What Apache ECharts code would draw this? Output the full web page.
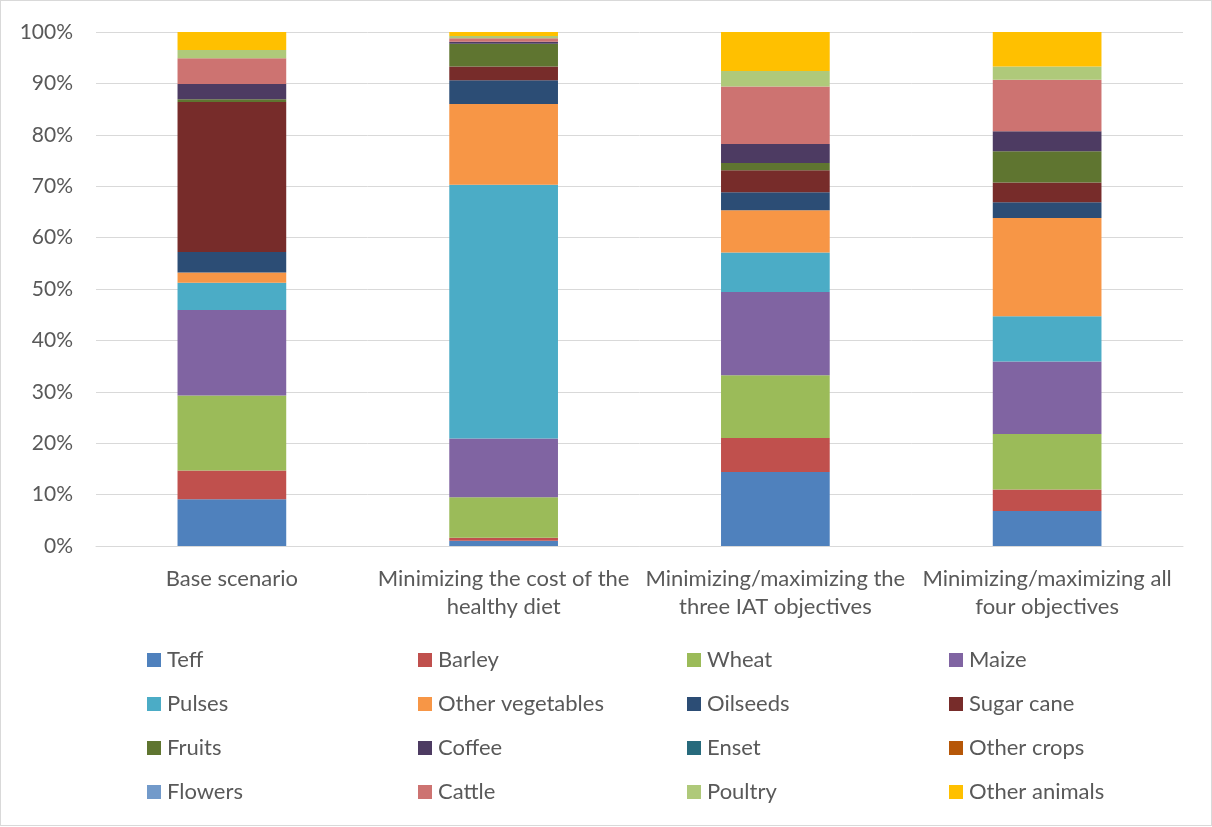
<!DOCTYPE html>
<html>
<head>
<meta charset="utf-8">
<script src="https://cdn.jsdelivr.net/npm/echarts@6/dist/echarts.min.js"></script>
<style>
html,body{margin:0;padding:0;background:#fff;}
#c{position:absolute;left:0;top:0;width:1210px;height:824px;border:1px solid #d9d9d9;}
</style>
</head>
<body>
<div id="c"></div>
<script>
const categories = [
  'Base scenario',
  'Minimizing the cost of the\nhealthy diet',
  'Minimizing/maximizing the\nthree IAT objectives',
  'Minimizing/maximizing all\nfour objectives'
];
const yTicks = [0, 10, 20, 30, 40, 50, 60, 70, 80, 90, 100];

// percentage shares per category (stack order bottom to top)
const teff         = [9.1, 1.0, 14.4, 6.8];
const barley       = [5.6, 0.6, 6.6, 4.2];
const wheat        = [14.6, 7.9, 12.2, 10.8];
const maize        = [16.6, 11.4, 16.2, 14.1];
const pulses       = [5.3, 49.4, 7.7, 8.8];
const otherVeg     = [2.0, 15.7, 8.2, 19.1];
const oilseeds     = [4.0, 4.6, 3.5, 3.1];
const sugarCane    = [29.2, 2.7, 4.3, 3.8];
const fruits       = [0.5, 4.4, 1.4, 6.1];
const coffee       = [3.0, 0.4, 3.7, 3.9];
const enset        = [0, 0, 0, 0];
const otherCrops   = [0, 0, 0, 0];
const flowers      = [0, 0, 0, 0];
const cattle       = [5.0, 0.7, 11.2, 10.0];
const poultry      = [1.6, 0.4, 3.0, 2.6];
const otherAnimals = [3.5, 0.8, 7.6, 6.7];

const seriesNames = ['Teff','Barley','Wheat','Maize','Pulses','Other vegetables','Oilseeds','Sugar cane','Fruits','Coffee','Enset','Other crops','Flowers','Cattle','Poultry','Other animals'];
const seriesData = [teff, barley, wheat, maize, pulses, otherVeg, oilseeds, sugarCane, fruits, coffee, enset, otherCrops, flowers, cattle, poultry, otherAnimals];
const colors = ['#4F81BD','#C0504D','#9BBB59','#8064A2','#4BACC6','#F79646','#2C4D75','#772C2A','#5F7530','#4D3B62','#276A7C','#B65708','#729ACA','#CD7371','#AFC97A','#FFC000'];

const FONT = 'Lato';
const TXT = '#595959';

const legendCols = [
  {left: 146, names: ['Teff','Pulses','Fruits','Flowers']},
  {left: 417, names: ['Barley','Other vegetables','Coffee','Cattle']},
  {left: 686, names: ['Wheat','Oilseeds','Enset','Poultry']},
  {left: 948, names: ['Maize','Sugar cane','Other crops','Other animals']}
];

const chart = echarts.init(document.getElementById('c'), null, {renderer: 'canvas'});
chart.setOption({
  animation: false,
  color: colors,
  grid: {left: 95, right: 28, top: 31, bottom: 279},
  legend: legendCols.map(c => ({
    orient: 'vertical',
    left: c.left,
    top: 647,
    padding: 0,
    itemWidth: 14,
    itemHeight: 14,
    itemGap: 20,
    icon: 'rect',
    data: c.names,
    selectedMode: false,
    textStyle: {fontFamily: FONT, fontSize: 22, color: TXT, lineHeight: 24, padding: [0,0,0,1]}
  })),
  xAxis: {
    type: 'category',
    data: categories,
    axisLine: {show: true, lineStyle: {color: '#d9d9d9', width: 1}},
    axisTick: {show: false},
    axisLabel: {fontFamily: FONT, fontSize: 22, color: TXT, lineHeight: 28, margin: 19, interval: 0}
  },
  yAxis: {
    type: 'value',
    min: 0,
    max: 100,
    interval: 10,
    axisLine: {show: false},
    axisTick: {show: false},
    splitLine: {lineStyle: {color: '#d9d9d9', width: 1}},
    axisLabel: {
      fontFamily: FONT, fontSize: 21, color: TXT, margin: 23,
      formatter: v => yTicks.indexOf(v) >= 0 ? v + '%' : ''
    }
  },
  series: seriesNames.map((n, i) => ({
    name: n,
    type: 'bar',
    stack: 'total',
    barWidth: '40%',
    data: seriesData[i],
    itemStyle: {color: colors[i]}
  }))
});
</script>
</body>
</html>
